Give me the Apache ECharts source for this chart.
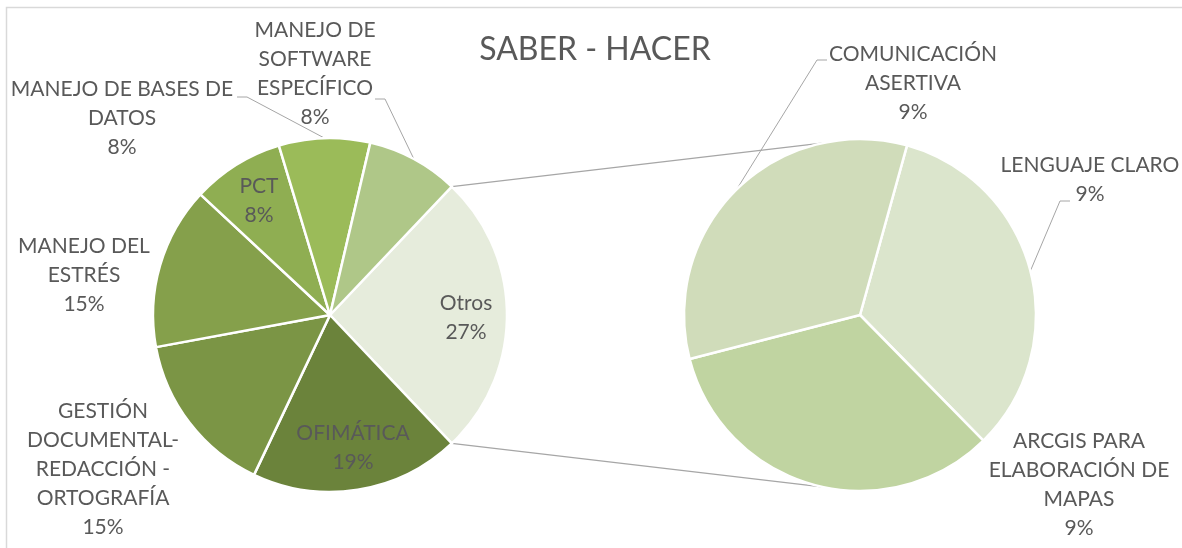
<!DOCTYPE html>
<html>
<head>
<meta charset="utf-8">
<title>SABER - HACER</title>
<script src="https://cdn.jsdelivr.net/npm/echarts@6/dist/echarts.min.js"></script>
<style>
  html, body { margin: 0; padding: 0; background: #fff; }
  #chart { width: 1182px; height: 548px; }
</style>
</head>
<body>
<div id="chart"></div>
<script>
(function () {
    'use strict';

    // first pie (the "Otros" slice is the sum of the second pie)
    var mainNames = ['OFIMÁTICA', 'GESTIÓN\nDOCUMENTAL-\nREDACCIÓN -\nORTOGRAFÍA', 'MANEJO DEL\nESTRÉS', 'PCT',
        'MANEJO DE BASES DE\nDATOS', 'MANEJO DE\nSOFTWARE\nESPECÍFICO'];
    var mainValues = [19.1, 15.0, 14.8, 8.4, 8.3, 8.4];
    var otherName = 'Otros';

    // second pie
    var otherNames = ['LENGUAJE CLARO', 'ARCGIS PARA\nELABORACIÓN DE\nMAPAS', 'COMUNICACIÓN\nASERTIVA'];
    var otherValues = [8.6, 8.6, 8.6];

    var mainColors = ['#e6ecdc', '#6b833b', '#7b9545', '#85a04b', '#8fae52', '#9bbb59', '#afc788'];
    var otherColors = ['#dbe5cc', '#c0d4a1', '#d0dcba'];

    // layout
    var LEFT = { cx: 330, cy: 315, r: 177 };
    var RIGHT = { cx: 860, cy: 315, r: 176 };
    var rightStart = 74.5;
    var connectorAngle = 102.5;
    var leftLabelPos = [[466, 318], [353, 448], [103, 469], [84, 275], [259, 201], [122, 118], [315, 74]];
    var leftLeader = [null, null, null, null, null, [237, 97], [375, 99]];
    var rightLabelPos = [[1090, 180], [1079, 485], [913, 83]];
    var rightLeader = [[1070, 201], null, [827, 60]];
    var textColor = '#595959';
    var lineColor = '#a6a6a6';
    var font = 'Lato, "Open Sans", sans-serif';

    function sum(arr) {
        return arr.reduce(function (a, v) { return a + v; }, 0);
    }

    var otrosValue = sum(otherValues);
    var total = sum(mainValues) + otrosValue;

    function pct(v) {
        return Math.round(v / total * 100);
    }

    var otrosPct = otherValues.reduce(function (a, v) { return a + pct(v); }, 0);

    var leftValues = [otrosValue].concat(mainValues);
    var leftNames = [otherName].concat(mainNames);
    var leftStart = otrosValue / total * 360 / 2;

    function midAngle(values, start, i) {
        var t = sum(values);
        var before = sum(values.slice(0, i));
        return start - (before + values[i] / 2) / t * 360;
    }

    function edgePoint(geo, deg) {
        var a = deg * Math.PI / 180;
        return [geo.cx + geo.r * Math.cos(a), geo.cy - geo.r * Math.sin(a)];
    }

    function makeLayout(values, start, geo, pos, leader) {
        return function (params) {
            var i = params.dataIndex;
            var out = { x: pos[i][0], y: pos[i][1], align: 'center', verticalAlign: 'middle' };
            if (leader[i]) {
                var edge = edgePoint(geo, midAngle(values, start, i));
                var end = leader[i];
                var elbowX = end[0] + (edge[0] > end[0] ? 10 : -10);
                out.labelLinePoints = [edge, [elbowX, end[1]], end];
            }
            return out;
        };
    }

    function buildData(names, values, colors, leader) {
        return names.map(function (n, i) {
            return {
                name: n,
                value: values[i],
                itemStyle: { color: colors[i] },
                labelLine: { show: !!leader[i] }
            };
        });
    }

    var labelStyle = {
        show: true,
        position: 'outside',
        color: textColor,
        fontFamily: font,
        fontSize: 21,
        lineHeight: 29,
        align: 'center'
    };

    var labelLineStyle = {
        lineStyle: { color: lineColor, width: 1 },
        length: 10,
        length2: 10
    };

    var p1 = edgePoint(LEFT, leftStart);
    var p2 = edgePoint(LEFT, -leftStart);
    var q1 = edgePoint(RIGHT, connectorAngle);
    var q2 = edgePoint(RIGHT, -connectorAngle);

    var myChart = echarts.init(document.getElementById('chart'));

    myChart.setOption({
        animation: false,
        backgroundColor: '#fff',
        title: {
            text: 'SABER - HACER',
            left: 595,
            top: 34,
            padding: 0,
            textAlign: 'center',
            textStyle: {
                fontFamily: font,
                fontSize: 32,
                fontWeight: 'normal',
                color: textColor
            }
        },
        graphic: [
            {
                type: 'rect',
                silent: true,
                shape: { x: 6.5, y: 7.5, width: 1200, height: 600 },
                style: { fill: 'none', stroke: '#d9d9d9', lineWidth: 1.5 }
            },
            {
                type: 'line',
                silent: true,
                shape: { x1: p1[0], y1: p1[1], x2: q1[0], y2: q1[1] },
                style: { stroke: lineColor, lineWidth: 1.2 }
            },
            {
                type: 'line',
                silent: true,
                shape: { x1: p2[0], y1: p2[1], x2: q2[0], y2: q2[1] },
                style: { stroke: lineColor, lineWidth: 1.2 }
            }
        ],
        series: [
            {
                name: 'SABER - HACER',
                type: 'pie',
                center: [LEFT.cx, LEFT.cy],
                radius: LEFT.r,
                startAngle: leftStart,
                clockwise: true,
                avoidLabelOverlap: false,
                itemStyle: { borderColor: '#fff', borderWidth: 2.5 },
                emphasis: { disabled: true },
                label: Object.assign({}, labelStyle, {
                    formatter: function (p) {
                        var s = p.dataIndex === 0 ? otrosPct : pct(p.value);
                        return p.name + '\n' + s + '%';
                    }
                }),
                labelLine: labelLineStyle,
                labelLayout: makeLayout(leftValues, leftStart, LEFT, leftLabelPos, leftLeader),
                data: buildData(leftNames, leftValues, mainColors, leftLeader)
            },
            {
                name: otherName,
                type: 'pie',
                center: [RIGHT.cx, RIGHT.cy],
                radius: RIGHT.r,
                startAngle: rightStart,
                clockwise: true,
                avoidLabelOverlap: false,
                itemStyle: { borderColor: '#fff', borderWidth: 2.5 },
                emphasis: { disabled: true },
                label: Object.assign({}, labelStyle, {
                    formatter: function (p) {
                        return p.name + '\n' + pct(p.value) + '%';
                    }
                }),
                labelLine: labelLineStyle,
                labelLayout: makeLayout(otherValues, rightStart, RIGHT, rightLabelPos, rightLeader),
                data: buildData(otherNames, otherValues, otherColors, rightLeader)
            }
        ]
    });
}());
</script>
</body>
</html>
